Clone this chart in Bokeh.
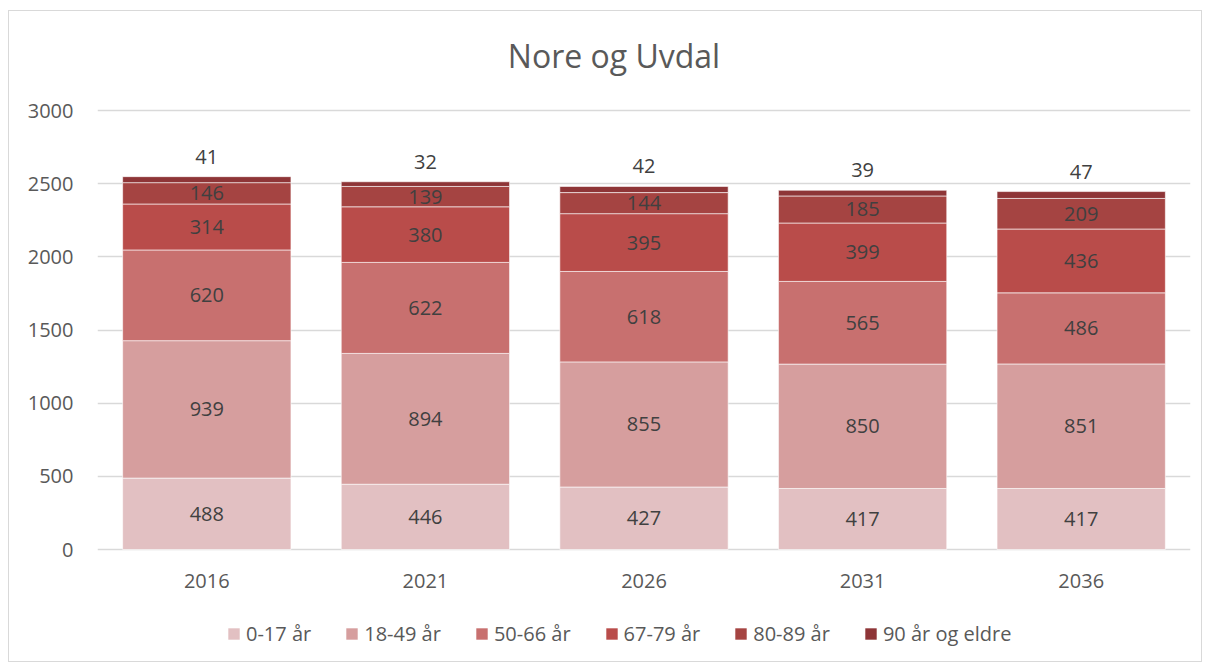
from bokeh.plotting import figure
from bokeh.models import (ColumnDataSource, Range1d, FactorRange, LabelSet, Label, Legend,
                          LegendItem, FixedTicker)
from bokeh.core.properties import value
from bokeh.embed import file_html
from bokeh.resources import INLINE

title_text = "Nore og Uvdal"
years = ["2016", "2021", "2026", "2031", "2036"]
groups = ["0-17 år", "18-49 år", "50-66 år", "67-79 år", "80-89 år", "90 år og eldre"]
a0_17 = [488, 446, 427, 417, 417]
a18_49 = [939, 894, 855, 850, 851]
a50_66 = [620, 622, 618, 565, 486]
a67_79 = [314, 380, 395, 399, 436]
a80_89 = [146, 139, 144, 185, 209]
a90 = [41, 32, 42, 39, 47]
y_ticks = [0, 500, 1000, 1500, 2000, 2500, 3000]
colors = ["#E2C0C2", "#D69E9E", "#C8706F", "#B94C4A", "#A54442", "#8E3537"]

series = [a0_17, a18_49, a50_66, a67_79, a80_89, a90]
keys = ["g%d" % i for i in range(6)]
data = {"years": years}
for k, s in zip(keys, series):
    data[k] = s
src = ColumnDataSource(data)

FONT = "Open Sans"
GREY = "#595959"

# canvas origin on page is (9, 11) because of the CSS margin + border
OX, OY = 9, 11
W, H = 1194, 652
TOP_PX, GRID_TOP_PX, BOTTOM_PX, ZERO_PX = OY, 110, 655, 549   # page pixels
ymax = y_ticks[-1]
upp = ymax / (ZERO_PX - GRID_TOP_PX)           # data units per pixel
yend = ymax + (GRID_TOP_PX - TOP_PX) * upp
ystart = -(BOTTOM_PX - ZERO_PX) * upp

p = figure(x_range=FactorRange(*years, range_padding=0), y_range=Range1d(ystart, yend),
           width=W, height=H, output_backend="svg", toolbar_location=None,
           min_border_left=97 - OX, min_border_right=W - (1190 - OX), min_border_top=0,
           min_border_bottom=H - (BOTTOM_PX - OY))
p.styles = {"border": "1px solid #D9D9D9", "margin-left": "8px", "margin-top": "10px"}
p.outline_line_color = None
p.xaxis.visible = False

renderers = p.vbar_stack(keys, x="years", width=0.77, source=src, color=colors,
                         line_color="white", line_width=1, line_alpha=0.6)

# title
p.add_layout(Label(x=len(years) / 2, y=ymax, text=title_text, text_align="center",
                   text_baseline="middle", x_offset=-30, y_offset=55, text_font=FONT,
                   text_font_size="32px", text_color=GREY))

# data labels
cum = [0] * len(years)
for i, s in enumerate(series):
    mids, tops = [], []
    for j, v in enumerate(s):
        mids.append(cum[j] + v / 2)
        cum[j] += v
        tops.append(cum[j])
    ls = ColumnDataSource(dict(x=years, y=(tops if i == 5 else mids), t=[str(v) for v in s]))
    p.add_layout(LabelSet(x="x", y="y", text="t", source=ls, text_align="center",
                          text_baseline="middle", text_font=value(FONT), text_font_size="20px",
                          text_color="#404040", y_offset=(20 if i == 5 else 0)))

# category labels (x axis)
xs = ColumnDataSource(dict(x=years, y=[0] * len(years), t=years))
p.add_layout(LabelSet(x="x", y="y", text="t", source=xs, text_align="center",
                      text_baseline="middle", text_font=value(FONT), text_font_size="20px",
                      text_color=GREY, y_offset=-31))

p.yaxis.ticker = FixedTicker(ticks=y_ticks)
ax = p.yaxis[0]
ax.axis_line_color = None
ax.major_tick_line_color = None
ax.minor_tick_line_color = None
ax.major_label_text_font = FONT
ax.major_label_text_font_size = "20px"
ax.major_label_text_color = GREY
ax.major_label_standoff = 18
p.xgrid.grid_line_color = None
p.ygrid.grid_line_color = "#D9D9D9"
p.ygrid.grid_line_width = 1.3

legend = Legend(items=[LegendItem(label=g, renderers=[r]) for g, r in zip(groups, renderers)],
                orientation="horizontal", location=(129, 8), label_text_font=FONT,
                label_text_font_size="20px", label_text_color=GREY, glyph_width=15, glyph_height=15,
                label_standoff=5, spacing=33, border_line_color=None, background_fill_alpha=0,
                padding=4, margin=0)
p.add_layout(legend)

open("out.html", "w").write(file_html(p, INLINE))
